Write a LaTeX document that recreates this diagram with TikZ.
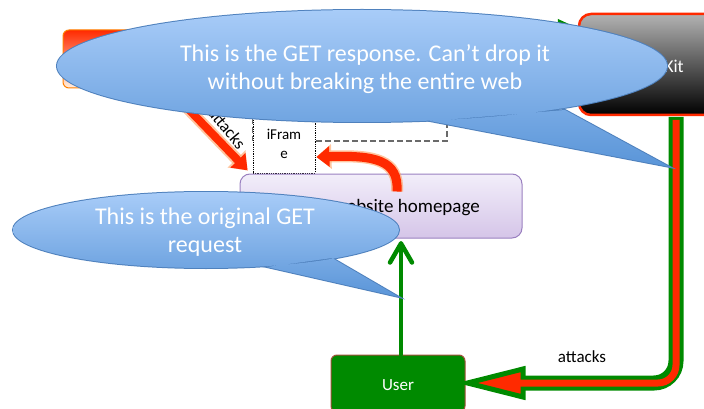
\documentclass[tikz,border=0pt]{standalone}
\usepackage{fontspec}
\setmainfont{Carlito}
\usetikzlibrary{arrows.meta,calc}
\definecolor{balltop}{HTML}{A8CCF8}
\definecolor{ballbot}{HTML}{5A95D8}
\definecolor{ballline}{HTML}{4F81BD}
\definecolor{redarr}{HTML}{FF2A00}
\definecolor{glow}{HTML}{FFA060}
\definecolor{grn}{HTML}{008A00}
\definecolor{hometop}{HTML}{F2EEFA}
\definecolor{homebot}{HTML}{D5C5E8}
\definecolor{homeline}{HTML}{9A80C0}
\definecolor{dashgray}{HTML}{6A6A6A}
\definecolor{userline}{HTML}{A0503A}
\tikzset{
  box/.style={inner sep=0pt, rounded corners=6pt},
  balloon/.style={top color=balltop, bottom color=ballbot},
  balloonline/.style={draw=ballline, line width=2pt, line join=miter},
  baltext/.style={text=white, font=\fontsize{24}{28}\selectfont, align=center},
  redshaft/.style={draw=redarr, line width=8pt},
  glowshaft/.style={draw=glow, line width=12pt, opacity=0.6},
  lbl/.style={font=\fontsize{17}{20}\selectfont, text=black},
}
\begin{document}
\begin{tikzpicture}[x=1pt,y=-1pt]
\useasboundingbox (0,0) rectangle (704,409);
% attacker box (mostly hidden)
\node[box, minimum width=152pt, minimum height=58pt, top color=redarr, bottom color=orange!12, draw=orange, line width=1pt] (attacker) at (139,59) {};
% dashed frame
\node[inner sep=0pt, minimum width=194pt, minimum height=101pt, draw=dashgray, line width=2pt, dash pattern=on 6pt off 3pt] (frame) at (350,90.5) {};
% green arrow into kit (mostly hidden)
\coordinate (gstart) at (470,28);
% kit box
\node[box, rounded corners=12pt, minimum width=142pt, minimum height=101pt, top color=gray!60, bottom color=black, draw=redarr, line width=2.5pt, text=white, font=\fontsize{18}{21}\selectfont] (kit) at (650,64.5) {};
\node[text=white, font=\fontsize{18}{21}\selectfont, anchor=east, inner sep=0pt] (kittext) at (684,68) {Exploit Kit};
\draw[grn, line width=4pt, -{Triangle[length=20pt,width=17pt]}] (gstart) -- (kit.west |- gstart);
% iFrame box
\node[inner sep=0pt, minimum width=62pt, minimum height=58pt, fill=white, draw=black, densely dotted, line width=0.8pt, align=center, font=\fontsize{15}{19}\selectfont] (iframe) at (284,144) {iFram\\e};
% diagonal red arrow
\coordinate (dstart) at (170,90);
\coordinate (dtip) at ($(iframe.south west)+(-5,-3)$);
\draw[glowshaft, -{Triangle[length=16pt,width=24pt]}] (dstart) -- (dtip);
\draw[redshaft, -{Triangle[length=14pt,width=20pt]}] (dstart) -- (dtip);
\node[lbl, rotate=-50] (diaglbl) at (227,128) {attacks};
% homepage box
\node[box, rounded corners=10pt, minimum width=282pt, minimum height=64pt, top color=hometop, bottom color=homebot, draw=homeline, line width=1pt] (homepage) at (381,206) {};
\node[font=\fontsize{19}{22}\selectfont, anchor=east, inner sep=0pt] (hometext) at (480,208) {website homepage};
% curved red arrow
\coordinate (cstart) at ($(homepage.north)+(16,18)$);
\coordinate (ctip) at ($(iframe.east)+(1,13)$);
\draw[glowshaft, line width=12pt, -{Triangle[length=15pt,width=24pt]}] (cstart) .. controls (399,160) and (375,155) .. (ctip);
\draw[redshaft, line width=9pt, -{Triangle[length=13pt,width=20pt]}] (cstart) .. controls (399,160) and (375,155) .. (ctip);
% user box
\node[box, minimum width=134pt, minimum height=57pt, fill=grn, draw=userline, line width=1pt] (user) at (398,383.5) {};
\node[text=white, font=\fontsize{17}{20}\selectfont] (usertext) at (398,385) {User};
% green up arrow
\coordinate (ustart) at ($(user.north)+(3,0)$);
\coordinate (utip) at ($(homepage.south)+(20,5)$);
\draw[grn, line width=4.5pt, line cap=round] (ustart) -- (utip);
\draw[grn, line width=4.5pt, line cap=round, line join=round] ($(utip)+(-11,19)$) -- (utip) -- ($(utip)+(11,19)$);
% big attacks arrow
\coordinate (kout) at (676,117);
\coordinate (bend) at (676,383);
\coordinate (btip) at ($(user.east)+(2,-0.5)$);
\coordinate (hbase) at (523,383);
\draw[grn, line width=15pt, rounded corners=22pt] (kout) -- (bend) -- (hbase);
\draw[grn, line width=5pt, line join=miter, fill=redarr] ($(hbase)+(0,-14)$) -- (btip) -- ($(hbase)+(0,14)$) -- cycle;
\draw[redarr, line width=7pt, rounded corners=18pt] ($(kout)+(0,3)$) -- (bend) -- ($(hbase)+(-14,0)$);
\node[lbl] (botlbl) at (582,357) {attacks};
% big balloon
\draw[balloonline] (362,66) ellipse [x radius=305, y radius=56];
\draw[balloonline] (430,121) -- (670,167) -- (565,110) -- cycle;
\shade[balloon] (362,66) ellipse [x radius=305, y radius=56] (430,121) -- (670,167) -- (565,110) -- cycle;
\node[baltext] (bigtext) at (365,69) {This is the GET response. Can’t drop it\\without breaking the entire web};
% small balloon
\draw[balloonline] (206,230) ellipse [x radius=193, y radius=38];
\draw[balloonline] (267,267) -- (399,297) -- (332,258) -- cycle;
\shade[balloon] (206,230) ellipse [x radius=193, y radius=38] (267,267) -- (399,297) -- (332,258) -- cycle;
\node[baltext] (smalltext) at (205,232) {This is the original GET\\request};
\end{tikzpicture}
\end{document}
